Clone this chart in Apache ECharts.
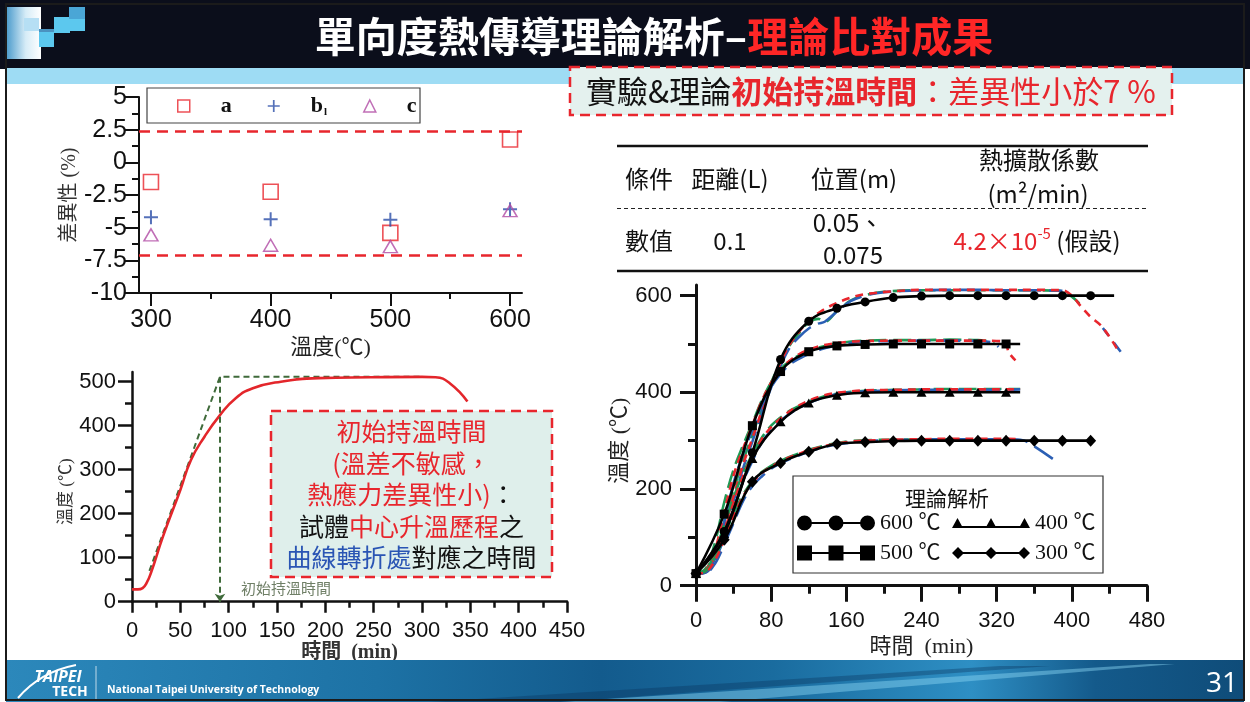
<!DOCTYPE html>
<html>
<head>
<meta charset="utf-8">
<title>單向度熱傳導理論解析</title>
<script src="https://cdn.jsdelivr.net/npm/echarts@6/dist/echarts.min.js"></script>
<style>
html, body { margin: 0; padding: 0; background: #ffffff; }
#chart { width: 1250px; height: 702px; }
</style>
</head>
<body>
<div id="chart"></div>
<script>
// ===== deviation (%) of initial holding time vs. furnace temperature =====
const tempCategories = [300, 400, 500, 600];
const deviationA  = [-1.5, -2.25, -5.4, 1.75];
const deviationB1 = [-4.2, -4.35, -4.4, -3.6];
const deviationC  = [-5.55, -6.35, -6.45, -3.7];
const deviationBounds = [2.4, -7.1];

// ===== heating history at the specimen centre =====
const heatTime = [0, 6, 11, 15, 20, 32, 50, 61, 75, 91, 107, 125, 154, 193, 247, 300, 314, 329, 347];
const heatTemp = [28, 28, 31, 42, 68, 148, 254, 322, 375, 424, 462, 485, 500, 508, 510, 511, 510, 496, 455];
const rampTime = [18, 91, 300];
const rampTemp = [70, 511, 511];
const holdTime = 91;
const holdTemp = 511;

// ===== one-dimensional theory (solid, markers) =====
const theoryTime = [0, 30, 60, 90, 120, 150, 180, 210, 240, 270, 300, 330, 360, 390, 420];
const theory600 = [25, 112, 275, 468, 547, 574, 587, 596, 599, 600, 600, 600, 600, 600, 600];
const theory500 = [25, 148, 331, 443, 484, 496, 499, 500, 500, 500, 500, 500];
const theory400 = [25, 108, 263, 339, 378, 394, 399, 400, 400, 400, 400, 400];
const theory300 = [25, 95, 215, 254, 277, 293, 297, 299, 300, 300, 300, 300, 300, 300, 300];
const theoryTail600 = [445, 600];
const theoryTail500 = [345, 500];
const theoryTail400 = [345, 400];
const theoryNames = ['600 ℃', '500 ℃', '400 ℃', '300 ℃'];

// ===== measured curves (dashed) =====
const exp600Time = [0,10,20,30,40,50,60,70,80,90,100,110,120,135,150,165,180,210,240,270,300,330,360,390,400,410,420,430,440,450];
const exp600Red  = [25,30,62,118,185,250,305,362,415,462,500,526,548,570,585,596,603,609,612,612,612,612,612,611,600,577,556,540,515,484];
const exp600GreenTime = [0,10,20,30,40,50,60,70,80,90,100,110,120,130,137,150,165,180,200,240,270,300,330,360,390,400,408];
const exp600Green = [25,33,70,132,198,258,312,367,420,462,498,523,545,552,546,568,590,601,608,611,611,611,611,611,610,598,584];
const exp600BlueTime = [0,10,20,30,40,50,60,70,80,90,100,110,120,130,137,150,165,180,200,240,270,300,330,360,390,400,433,452];
const exp600Blue = [25,28,55,108,175,242,298,355,410,455,493,515,532,542,546,567,589,600,607,611,612,612,611,611,610,null,533,484];

const exp500RedTime = [0,10,20,30,40,50,60,70,80,90,100,110,120,135,150,165,180,210,240,270,300,328,333,340];
const exp500Red = [25,31,72,152,228,283,332,382,420,447,466,479,488,497,502,505,506,507,507,507,507,505,482,466];
const exp500GreenTime = [0,10,20,30,40,50,60,70,80,90,100,110,120,135,150,165,180,210,240,270,300,318];
const exp500Green = [25,35,88,172,240,290,336,383,421,448,465,477,486,495,501,505,507,508,508,509,508,505];
const exp500BlueTime = [0,10,20,30,40,50,60,70,80,90,100,110,120,135,150,165,180,210,240,270,300,315,322];
const exp500Blue = [25,27,58,132,212,272,322,372,411,438,458,470,479,490,497,502,505,506,507,507,506,503,494];

const exp400Time = [0,10,20,30,40,50,60,70,80,90,100,110,120,135,150,165,180,210,240,270,300,330,345];
const exp400Red   = [25,30,60,112,172,226,268,303,328,346,361,373,383,393,399,402,404,405,406,406,406,406,407];
const exp400Green = [25,32,68,125,182,232,272,306,331,348,362,372,381,391,397,401,403,405,406,407,407,407,407];
const exp400Blue  = [25,27,52,100,160,215,258,296,322,341,356,368,378,389,396,400,402,404,405,405,405,405,406];

const exp300Time = [0,10,20,30,40,50,60,70,80,90,100,110,120,135,150,165,180,210,240,270,300,330,345];
const exp300Red = [25,28,52,95,143,184,213,233,246,257,266,273,280,288,294,298,300,302,303,304,304,304,303];
const exp300GreenTime = [0,10,20,30,40,50,60,70,80,90,100,110,120,135,150,165,180,210,240,270,300,330,340];
const exp300Green = [25,30,58,102,150,188,216,235,248,258,267,274,281,289,295,299,301,302,303,303,303,303,303];
const exp300BlueTime = [0,10,20,30,40,50,60,70,80,90,100,110,120,135,150,165,180,210,240,270,300,330,345,352,380];
const exp300Blue = [25,26,45,85,130,175,206,226,242,253,262,270,277,286,292,296,299,301,302,303,303,303,302,298,262];

// ---------- styling ----------
const SANS = "'Liberation Sans', Arial, sans-serif";
const SERIF = "'Liberation Serif', 'Noto Sans CJK TC', serif";
const CJK = "'Noto Sans CJK TC', 'Noto Sans CJK SC', sans-serif";
const INK = '#111111';
const RED = '#e8262d';
const GREEN = '#1f9a55';
const BLUE = '#2b5fb4';

const pairs = (ts, vs) => ts.map((t, i) => [t, vs[i]]);

function lineOnlyAxis(gridIndex, min, max, width, extra) {
  return Object.assign({
    type: 'value', gridIndex, min, max,
    axisLine: { show: true, onZero: false, lineStyle: { color: INK, width } },
    axisTick: { show: false }, minorTick: { show: false },
    axisLabel: { show: false }, splitLine: { show: false }
  }, extra || {});
}
function tickAxis(gridIndex, min, max, interval, o) {
  return Object.assign({
    type: 'value', gridIndex, min, max, interval,
    axisLine: { show: false, onZero: false },
    axisTick: { show: true, inside: false, length: o.tick, lineStyle: { color: INK, width: o.w } },
    minorTick: { show: true, splitNumber: 2, length: o.minor, lineStyle: { color: INK, width: o.w } },
    axisLabel: { show: true, margin: o.margin, color: INK, fontFamily: SANS, fontSize: o.font },
    splitLine: { show: false }, minorSplitLine: { show: false }
  }, o.extra || {});
}
function hiddenAxis(gridIndex, min, max) {
  return { type: 'value', gridIndex, min, max, show: false, splitLine: { show: false } };
}
function fullAxis(gridIndex, min, max, interval, o) {
  const a = tickAxis(gridIndex, min, max, interval, o);
  a.axisLine = { show: true, onZero: false, lineStyle: { color: INK, width: o.w } };
  return a;
}

// ---------- series ----------
const series = [];

// deviation scatter
const plusPath = 'path://M6,0L8,0L8,6L14,6L14,8L8,8L8,14L6,14L6,8L0,8L0,6L6,6Z';
series.push({
  name: 'a', type: 'scatter', xAxisIndex: 0, yAxisIndex: 0,
  symbol: 'rect', symbolSize: 15,
  itemStyle: { color: 'rgba(255,255,255,0)', borderColor: RED, borderWidth: 1.6 },
  data: pairs(tempCategories, deviationA),
  markLine: {
    silent: true, symbol: 'none', label: { show: false },
    lineStyle: { color: RED, width: 2.6, type: [11, 7] },
    data: deviationBounds.map(v => ({ yAxis: v }))
  }
});
series.push({
  name: 'b1', type: 'scatter', xAxisIndex: 0, yAxisIndex: 0,
  symbol: plusPath, symbolSize: 14,
  itemStyle: { color: '#2a4ea8' },
  data: pairs(tempCategories, deviationB1)
});
series.push({
  name: 'c', type: 'scatter', xAxisIndex: 0, yAxisIndex: 0,
  symbol: 'triangle', symbolSize: [14, 12],
  itemStyle: { color: 'rgba(255,255,255,0)', borderColor: '#b04aa4', borderWidth: 1.5 },
  data: pairs(tempCategories, deviationC)
});

// heating curve and holding-time construction
series.push({
  name: 'heat', type: 'line', xAxisIndex: 2, yAxisIndex: 2,
  data: pairs(heatTime, heatTemp), smooth: 0.5, showSymbol: false,
  lineStyle: { color: '#e3262b', width: 2.6 }, z: 3
});
series.push({
  name: 'ramp', type: 'line', xAxisIndex: 2, yAxisIndex: 2,
  data: pairs(rampTime, rampTemp), showSymbol: false,
  lineStyle: { color: '#3f6a3a', width: 2, type: [6, 4] }, z: 2,
  markLine: {
    silent: true, symbol: ['none', 'arrow'], symbolSize: 8, label: { show: false },
    lineStyle: { color: '#3f6a3a', width: 2, type: [6, 4] },
    data: [[{ coord: [holdTime, holdTemp] }, { coord: [holdTime, 0] }]]
  }
});

// measured curves
function expSeries(name, data, color, dash, offset) {
  return {
    name, type: 'line', xAxisIndex: 4, yAxisIndex: 4, data,
    showSymbol: false, smooth: 0.35, connectNulls: false,
    lineStyle: { color, width: 2.6, type: dash, dashOffset: offset || 0 }, z: 2
  };
}
const gDash = [18, 7], bDash = [22, 8], rDash = [8, 6];
series.push(expSeries('m600g', pairs(exp600GreenTime, exp600Green), GREEN, gDash, 0));
series.push(expSeries('m600b', pairs(exp600BlueTime, exp600Blue), BLUE, bDash, 12));
series.push(expSeries('m600r', pairs(exp600Time, exp600Red), RED, rDash, 0));
series.push(expSeries('m500g', pairs(exp500GreenTime, exp500Green), GREEN, gDash, 5));
series.push(expSeries('m500b', pairs(exp500BlueTime, exp500Blue), BLUE, bDash, 0));
series.push(expSeries('m500r', pairs(exp500RedTime, exp500Red), RED, rDash, 3));
series.push(expSeries('m400g', pairs(exp400Time, exp400Green), GREEN, gDash, 9));
series.push(expSeries('m400b', pairs(exp400Time, exp400Blue), BLUE, bDash, 4));
series.push(expSeries('m400r', pairs(exp400Time, exp400Red), RED, rDash, 6));
series.push(expSeries('m300g', pairs(exp300GreenTime, exp300Green), GREEN, gDash, 2));
series.push(expSeries('m300b', pairs(exp300BlueTime, exp300Blue), BLUE, bDash, 15));
series.push(expSeries('m300r', pairs(exp300Time, exp300Red), RED, rDash, 1));

// theory curves
function theorySeries(name, values, symbol, size, tail) {
  const data = pairs(theoryTime.slice(0, values.length), values);
  if (tail) data.push({ value: tail, symbol: 'none' });
  return {
    name, type: 'line', xAxisIndex: 4, yAxisIndex: 4, data,
    symbol, symbolSize: size, showAllSymbol: true, smooth: 0.4,
    itemStyle: { color: '#000' }, lineStyle: { color: '#000', width: 2.6 }, z: 4
  };
}
series.push(theorySeries(theoryNames[0], theory600, 'circle', 9, theoryTail600));
series.push(theorySeries(theoryNames[1], theory500, 'rect', 9, theoryTail500));
series.push(theorySeries(theoryNames[2], theory400, 'triangle', [10, 9], theoryTail400));
series.push(theorySeries(theoryNames[3], theory300, 'diamond', [11, 12], null));

// ---------- legends ----------
const circleIcon = 'path://M0,7.5A7.5,7.5 0 1,1 15,7.5A7.5,7.5 0 1,1 0,7.5Z M31.5,7.5A7.5,7.5 0 1,1 46.5,7.5A7.5,7.5 0 1,1 31.5,7.5Z M63,7.5A7.5,7.5 0 1,1 78,7.5A7.5,7.5 0 1,1 63,7.5Z M14,6.5L64,6.5L64,8.5L14,8.5Z';
const squareIcon = 'path://M0,0L15,0L15,15L0,15Z M31.5,0L46.5,0L46.5,15L31.5,15Z M63,0L78,0L78,15L63,15Z M14,6.5L64,6.5L64,8.5L14,8.5Z';
const triIcon = 'path://M0,10L5.5,0L11,10Z M33.5,10L39,0L44.5,10Z M67,10L72.5,0L78,10Z M5,8L73,8L73,10L5,10Z';
const diaIcon = 'path://M0,6L6,0L12,6L6,12Z M33,6L39,0L45,6L39,12Z M66,6L72,0L78,6L72,12Z M6,5L72,5L72,7L6,7Z';
const theoryLegendText = { fontFamily: SERIF, fontSize: 22, lineHeight: 22, color: INK };
function theoryLegend(name, icon, h, left, top) {
  return {
    show: true, selectedMode: false, orient: 'horizontal', left, top, padding: 0,
    itemWidth: 78, itemHeight: h, itemGap: 0, icon, data: [name], textStyle: theoryLegendText, z: 6
  };
}

const option = {
  animation: false,
  backgroundColor: '#ffffff',
  grid: [
    { left: 139, top: 97, width: 383, height: 196, outerBoundsMode: 'none' },
    { left: 151, top: 97, width: 359, height: 196, outerBoundsMode: 'none' },
    { left: 132, top: 372, width: 435, height: 229.7, outerBoundsMode: 'none' },
    { left: 132, top: 381.7, width: 435, height: 220, outerBoundsMode: 'none' },
    { left: 696, top: 285, width: 451, height: 300.7, outerBoundsMode: 'none' },
    { left: 696, top: 295.7, width: 451, height: 290, outerBoundsMode: 'none' }
  ],
  xAxis: [
    lineOnlyAxis(0, 290, 610, 2, {
      name: '溫度(℃)', nameLocation: 'middle', nameGap: 44,
      nameTextStyle: { fontFamily: SERIF, fontSize: 22, color: '#222' }
    }),
    tickAxis(1, 300, 600, 100, { tick: 13, minor: 6, w: 2, margin: 15, font: 25 }),
    fullAxis(2, 0, 450, 50, {
      tick: 11, minor: 6, w: 2.5, margin: 18, font: 22,
      extra: { name: '時間  (min)', nameLocation: 'middle', nameGap: 36,
               nameTextStyle: { fontFamily: SERIF, fontSize: 20, fontWeight: 'bold', color: '#333' } }
    }),
    hiddenAxis(3, 0, 450),
    fullAxis(4, 0, 480, 80, {
      tick: 16, minor: 8, w: 3, margin: 24, font: 22,
      extra: { name: '時間  (min)', nameLocation: 'middle', nameGap: 51,
               nameTextStyle: { fontFamily: SERIF, fontSize: 22, color: '#222' } }
    }),
    hiddenAxis(5, 0, 480)
  ],
  yAxis: [
    fullAxis(0, -10, 5, 2.5, {
      tick: 14, minor: 7, w: 2, margin: 12, font: 25,
      extra: { name: '差異性 (%)', nameLocation: 'middle', nameGap: 52, nameRotate: 90,
               nameTextStyle: { fontFamily: SERIF, fontSize: 20, color: '#333' } }
    }),
    hiddenAxis(1, -10, 5),
    lineOnlyAxis(2, 0, 522, 2.5),
    tickAxis(3, 0, 500, 100, {
      tick: 14, minor: 7, w: 2.5, margin: 16, font: 22,
      extra: { name: '溫度 (℃)', nameLocation: 'middle', nameGap: 40, nameRotate: 90,
               nameTextStyle: { fontFamily: SERIF, fontSize: 17, color: '#333' } }
    }),
    lineOnlyAxis(4, 0, 622, 3),
    tickAxis(5, 0, 600, 200, {
      tick: 16, minor: 8, w: 3, margin: 24, font: 22,
      extra: { name: '溫度 (℃)', nameLocation: 'middle', nameGap: 62, nameRotate: 90,
               nameTextStyle: { fontFamily: SERIF, fontSize: 22, color: '#222' } }
    })
  ],
  legend: [
    {
      show: true, selectedMode: false, orient: 'horizontal', left: 177, top: 94, padding: 0,
      itemWidth: 12, itemHeight: 12, itemGap: 36, z: 6,
      data: [
        { name: 'a', icon: 'rect', itemStyle: { color: 'rgba(255,255,255,0)', borderColor: RED, borderWidth: 1.5 } },
        { name: 'b1', icon: plusPath, itemStyle: { color: '#2a4ea8' } },
        { name: 'c', icon: 'triangle', itemStyle: { color: 'rgba(255,255,255,0)', borderColor: '#b04aa4', borderWidth: 1.5 } }
      ],
      formatter: n => (n === 'b1' ? '{b|b}{s|l}' : n),
      textStyle: {
        fontFamily: SERIF, fontSize: 22, fontWeight: 'bold', color: INK, lineHeight: 24,
        padding: [0, 0, 0, 26],
        rich: {
          b: { fontFamily: SERIF, fontSize: 22, fontWeight: 'bold', color: INK, lineHeight: 24 },
          s: { fontFamily: SERIF, fontSize: 11, color: INK, lineHeight: 24, verticalAlign: 'bottom', padding: [0, 0, 0, 1] }
        }
      }
    },
    theoryLegend(theoryNames[0], circleIcon, 15, 797, 512),
    theoryLegend(theoryNames[1], squareIcon, 15, 797, 542),
    theoryLegend(theoryNames[2], triIcon, 10, 952, 512),
    theoryLegend(theoryNames[3], diaIcon, 12, 952, 542)
  ],
  series,
  graphic: { elements: [] }
};

// ---------- slide furniture ----------
const G = option.graphic.elements;
const text = (t, x, y, st, z) => ({
  type: 'text', z: z == null ? 20 : z, silent: true,
  style: Object.assign({
    text: t, x, y, fill: INK, fontSize: 24, fontFamily: CJK,
    align: 'center', verticalAlign: 'middle', textAlign: 'center', textVerticalAlign: 'middle'
  }, st || {})
});

// title bar
G.push({ type: 'rect', z: 1, silent: true, shape: { x: 0, y: 0, width: 1250, height: 69 }, style: { fill: '#0b0e1b' } });
G.push({ type: 'rect', z: 1, silent: true, shape: { x: 6, y: 68, width: 1238, height: 16 }, style: { fill: '#9edcf4' } });
G.push({ type: 'rect', z: 2, silent: true, shape: { x: 7, y: 7, width: 34, height: 52 },
  style: { fill: new echarts.graphic.LinearGradient(0, 0, 1, 0, [
    { offset: 0, color: '#4f9dcd' }, { offset: 0.55, color: '#d6ecf7' }, { offset: 1, color: '#ffffff' }]) } });
G.push({ type: 'rect', z: 3, silent: true, shape: { x: 24, y: 18, width: 15, height: 13 }, style: { fill: '#b6dff4' } });
G.push({ type: 'rect', z: 3, silent: true, shape: { x: 39, y: 31, width: 15, height: 16 }, style: { fill: '#5cc8ee' } });
G.push({ type: 'rect', z: 3, silent: true, shape: { x: 39, y: 29, width: 15, height: 3 }, style: { fill: '#4a93c0' } });
G.push({ type: 'rect', z: 3, silent: true, shape: { x: 54, y: 17, width: 16, height: 16 }, style: { fill: '#5cc8ee' } });
G.push({ type: 'rect', z: 3, silent: true, shape: { x: 69, y: 7, width: 16, height: 12 }, style: { fill: '#4aa6d6' } });
G.push({ type: 'rect', z: 3, silent: true, shape: { x: 69, y: 19, width: 16, height: 12 }, style: { fill: '#5cc8ee' } });
G.push(text('{w|單向度熱傳導理論解析–}{r|理論比對成果}', 654, 36, {
  rich: {
    w: { fill: '#ffffff', fontSize: 41, fontWeight: 'bold', fontFamily: CJK },
    r: { fill: '#ff2626', fontSize: 41, fontWeight: 'bold', fontFamily: CJK }
  }
}));

// headline callout
G.push({ type: 'rect', z: 10, silent: true, shape: { x: 570, y: 67, width: 602, height: 48 },
  style: { fill: '#e4f1ee', stroke: RED, lineWidth: 2.5, lineDash: [10, 6] } });
G.push(text('{k|實驗&理論}{rb|初始持溫時間}{r|：差異性小於7 %}', 871, 91, {
  rich: {
    k: { fill: '#111', fontSize: 31, fontFamily: CJK },
    rb: { fill: '#e8262d', fontSize: 31, fontWeight: 'bold', fontFamily: CJK },
    r: { fill: '#e8262d', fontSize: 31, fontFamily: CJK }
  }
}, 11));

// parameter table
G.push({ type: 'line', z: 10, silent: true, shape: { x1: 617, y1: 146, x2: 1148, y2: 146 }, style: { stroke: '#111', lineWidth: 2.5 } });
G.push({ type: 'line', z: 10, silent: true, shape: { x1: 617, y1: 208.5, x2: 1148, y2: 208.5 }, style: { stroke: '#222', lineWidth: 1, lineDash: [4, 3] } });
G.push({ type: 'line', z: 10, silent: true, shape: { x1: 617, y1: 271, x2: 1148, y2: 271 }, style: { stroke: '#111', lineWidth: 2.5 } });
G.push(text('條件', 649, 179));
G.push(text('距離(L)', 730, 179));
G.push(text('位置(m)', 854, 179));
G.push(text('熱擴散係數', 1039, 160));
G.push(text('(m²/min)', 1038, 194));
G.push(text('數值', 649, 241));
G.push(text('0.1', 730, 241));
G.push(text('0.05、', 848, 223));
G.push(text('0.075', 853, 255));
G.push(text('{r|4.2×10}{s|-5}{k| (假設)}', 1037, 241, {
  rich: {
    r: { fill: RED, fontSize: 24, fontFamily: CJK, lineHeight: 30 },
    s: { fill: RED, fontSize: 15, fontFamily: CJK, lineHeight: 16, verticalAlign: 'top' },
    k: { fill: '#111', fontSize: 24, fontFamily: CJK, lineHeight: 30 }
  }
}));

// left-top legend frame
G.push({ type: 'rect', z: 3, silent: true, shape: { x: 147, y: 88, width: 273, height: 35 },
  style: { fill: '#ffffff', stroke: '#444', lineWidth: 1.2 } });

// heating-curve annotation and callout
G.push(text('初始持溫時間', 286, 588, { fill: '#6f7f66', fontSize: 15, fontFamily: CJK }, 5));
G.push({ type: 'rect', z: 10, silent: true, shape: { x: 271, y: 411, width: 281, height: 166 },
  style: { fill: '#dfefeb', stroke: RED, lineWidth: 2.5, lineDash: [10, 6] } });
G.push(text('{r|初始持溫時間}\n{r|(溫差不敏感，}\n{r|熱應力差異性小)}{k|：}\n{k|試體}{r|中心升溫歷程}{k|之}\n{b|曲線轉折處}{k|對應之時間}', 411.5, 494.5, {
  lineHeight: 31.5,
  rich: {
    r: { fill: '#e8262d', fontSize: 25, fontFamily: CJK, lineHeight: 31.5 },
    k: { fill: '#111', fontSize: 25, fontFamily: CJK, lineHeight: 31.5 },
    b: { fill: '#2a55b4', fontSize: 25, fontFamily: CJK, lineHeight: 31.5 }
  }
}, 11));

// right legend frame
G.push({ type: 'rect', z: 3, silent: true, shape: { x: 793, y: 476, width: 310, height: 97 },
  style: { fill: '#ffffff', stroke: '#333', lineWidth: 1.2 } });
G.push(text('理論解析', 947, 498, { fontSize: 21, fontFamily: CJK, fill: '#111' }, 7));

// footer band
G.push({ type: 'rect', z: 1, silent: true, shape: { x: 6, y: 660, width: 1238, height: 42 },
  style: { fill: new echarts.graphic.LinearGradient(0, 0, 1, 0, [
    { offset: 0, color: '#2c88bb' }, { offset: 0.3, color: '#1d72a5' }, { offset: 0.48, color: '#135b8d' },
    { offset: 0.62, color: '#1a6c9f' }, { offset: 0.78, color: '#2e8fc4' }, { offset: 0.88, color: '#145a8b' },
    { offset: 1, color: '#0f4c79' }]) } });
G.push({ type: 'polygon', z: 2, silent: true, shape: { points: [[560, 702], [1150, 664], [1175, 664], [720, 702]] },
  style: { fill: 'rgba(140,215,245,0.45)' } });
G.push({ type: 'polygon', z: 2, silent: true, shape: { points: [[430, 702], [1000, 666], [1050, 666], [560, 702]] },
  style: { fill: 'rgba(10,50,90,0.35)' } });
G.push({ type: 'bezierCurve', z: 3, silent: true, shape: { x1: 18, y1: 698, x2: 76, y2: 665, cpx1: 40, cpy1: 672 },
  style: { stroke: '#ffffff', lineWidth: 2, fill: null } });
G.push(text('TAIPEI', 58, 677, { fill: '#fff', fontSize: 16, fontWeight: 'bold', fontStyle: 'italic', fontFamily: "'Open Sans', sans-serif" }, 4));
G.push(text('TECH', 70, 692, { fill: '#fff', fontSize: 14, fontWeight: 'bold', fontFamily: "'Open Sans', sans-serif" }, 4));
G.push({ type: 'line', z: 3, silent: true, shape: { x1: 96, y1: 666, x2: 96, y2: 700 }, style: { stroke: 'rgba(255,255,255,0.7)', lineWidth: 1 } });
G.push(text('National Taipei University of Technology', 107, 690, {
  fill: '#fff', fontSize: 10.5, fontWeight: 'bold', fontFamily: "'Open Sans', sans-serif",
  align: 'left', textAlign: 'left'
}, 4));
G.push(text('31', 1222, 684, { fill: '#fff', fontSize: 28, fontFamily: "'Open Sans', sans-serif" }, 4));

// slide frame
G.push({ type: 'rect', z: 30, silent: true, shape: { x: 6, y: 4, width: 1238, height: 696 },
  style: { fill: null, stroke: '#1b1b1b', lineWidth: 2 } });

const chart = echarts.init(document.getElementById('chart'), null, { renderer: 'canvas', width: 1250, height: 702 });
chart.setOption(option);
</script>
</body>
</html>
